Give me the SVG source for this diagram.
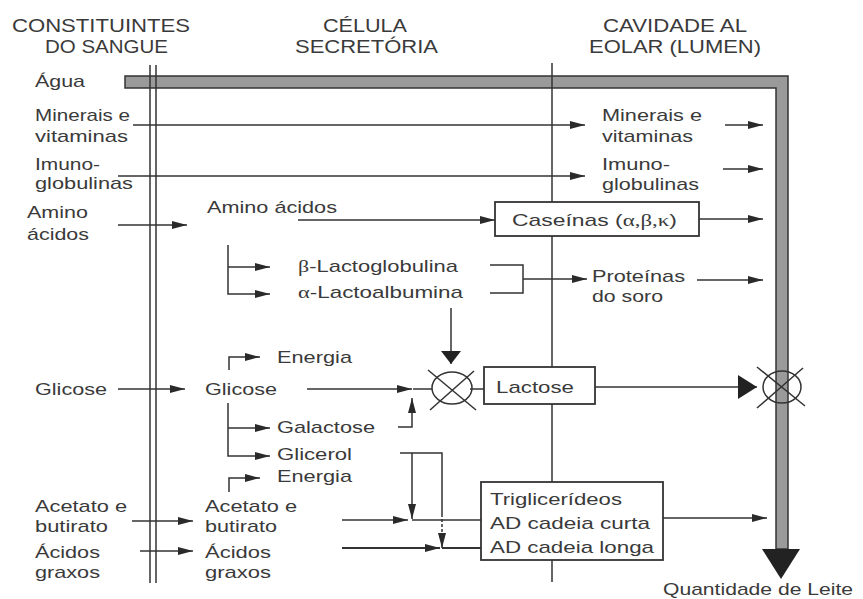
<svg xmlns="http://www.w3.org/2000/svg" width="863" height="599" viewBox="0 0 863 599">
<style>
text{font-family:"Liberation Sans",Arial,sans-serif;font-size:17px;fill:#3a3a3a;}
.h{font-size:19px;}
.g{font-family:"Liberation Serif","Times New Roman",serif;}
.ln{fill:none;stroke:#333;stroke-width:1.5;}
.ar{fill:none;stroke:#333;stroke-width:1.5;marker-end:url(#a);}
.box{fill:#fff;stroke:#333;stroke-width:1.8;}
</style>
<defs>
<marker id="a" markerUnits="userSpaceOnUse" markerWidth="16" markerHeight="10" refX="15" refY="5" orient="auto"><path d="M0,1 L15,5 L0,9 Z" fill="#2a2a2a"/></marker>
<marker id="b" markerUnits="userSpaceOnUse" markerWidth="20" markerHeight="24" refX="19" refY="12" orient="auto"><path d="M0,0 L19,12 L0,24 Z" fill="#222"/></marker>
<marker id="c" markerUnits="userSpaceOnUse" markerWidth="14" markerHeight="22" refX="13" refY="11" orient="auto"><path d="M0,1 L13,11 L0,21 Z" fill="#222"/></marker>
</defs>

<g id="headers">
<text class="h" x="12" y="32" textLength="178" lengthAdjust="spacingAndGlyphs">CONSTITUINTES</text>
<text class="h" x="45" y="53" textLength="123" lengthAdjust="spacingAndGlyphs">DO SANGUE</text>
<text class="h" x="323" y="32" textLength="84" lengthAdjust="spacingAndGlyphs">CÉLULA</text>
<text class="h" x="295" y="53" textLength="143" lengthAdjust="spacingAndGlyphs">SECRETÓRIA</text>
<text class="h" x="603" y="32" textLength="144" lengthAdjust="spacingAndGlyphs">CAVIDADE AL</text>
<text class="h" x="589" y="53" textLength="172" lengthAdjust="spacingAndGlyphs">EOLAR (LUMEN)</text>
</g>

<g id="water-flow">
<path d="M125,76 H788 V549 H776 V88 H125 Z" fill="#9a9a9a" stroke="#333" stroke-width="1.5"/>
<path d="M762,549 L800,549 L781,579 Z" fill="#222"/>
</g>

<g id="membranes">
<line class="ln" x1="150" y1="65" x2="150" y2="583"/>
<line class="ln" x1="156" y1="65" x2="156" y2="583"/>
<line class="ln" x1="552" y1="63" x2="552" y2="582"/>
</g>

<g id="connectors">
<line class="ar" x1="133" y1="125" x2="585" y2="125"/>
<line class="ar" x1="725" y1="125" x2="763" y2="125"/>
<line class="ar" x1="118" y1="176" x2="585" y2="176"/>
<line class="ar" x1="723" y1="169" x2="763" y2="169"/>
<line class="ar" x1="118" y1="225" x2="187" y2="225"/>
<line class="ar" x1="298" y1="220" x2="495" y2="220"/>
<line class="ar" x1="699" y1="219" x2="763" y2="219"/>
<path class="ar" d="M228,245 V294 H270"/>
<line class="ar" x1="228" y1="267" x2="270" y2="267"/>
<path class="ln" d="M490,265 H523 V293 H490"/>
<line class="ar" x1="523" y1="279" x2="587" y2="279"/>
<line class="ar" x1="697" y1="280" x2="763" y2="280"/>
<line class="ln" x1="451" y1="308" x2="451" y2="364" style="marker-end:url(#c)"/>
<line class="ln" x1="470" y1="389" x2="484" y2="389"/>
<line class="ln" x1="595" y1="387" x2="757" y2="387" style="marker-end:url(#b)"/>
<line class="ar" x1="118" y1="389" x2="185" y2="389"/>
<line class="ar" x1="307" y1="389" x2="412" y2="389"/>
<line class="ln" x1="413" y1="389" x2="432" y2="389"/>
<path class="ar" d="M229,370 V357 H260"/>
<path class="ar" d="M228,403 V456 H270"/>
<line class="ar" x1="228" y1="428" x2="270" y2="428"/>
<path class="ar" d="M398,427 H412 V398"/>
<path class="ar" d="M229,492 V478 H260"/>
<line class="ar" x1="132" y1="521" x2="193" y2="521"/>
<line class="ar" x1="140" y1="551" x2="193" y2="551"/>
<line class="ar" x1="342" y1="520" x2="408" y2="520"/>
<line class="ln" x1="412" y1="520" x2="481" y2="520"/>
<line class="ar" x1="342" y1="548" x2="440" y2="548" style="stroke-width:2.2"/>
<line class="ln" x1="442" y1="548" x2="481" y2="548" style="stroke-width:2"/>
<path class="ln" d="M400,453 H442 V514"/>
<line class="ln" x1="442" y1="514" x2="442" y2="535" stroke-dasharray="3,2"/>
<line class="ar" x1="442" y1="535" x2="442" y2="548"/>
<line class="ar" x1="412" y1="453" x2="412" y2="519"/>
<line class="ar" x1="663" y1="518" x2="767" y2="518"/>
</g>

<g id="mixer-left">
<ellipse cx="452" cy="388" rx="20" ry="16" fill="none" stroke="#333" stroke-width="1.5"/>
<line class="ln" x1="428" y1="370" x2="476" y2="410"/>
<line class="ln" x1="474" y1="371" x2="430" y2="410"/>
</g>
<g id="mixer-right">
<ellipse cx="782" cy="387" rx="19" ry="16" fill="none" stroke="#333" stroke-width="1.5"/>
<line class="ln" x1="757" y1="367" x2="805" y2="406"/>
<line class="ln" x1="803" y1="368" x2="757" y2="408"/>
</g>

<g id="blood">
<text x="35" y="87" textLength="50" lengthAdjust="spacingAndGlyphs">Água</text>
<text x="35" y="121" textLength="95" lengthAdjust="spacingAndGlyphs">Minerais e</text>
<text x="35" y="142" textLength="93" lengthAdjust="spacingAndGlyphs">vitaminas</text>
<text x="35" y="170" textLength="65" lengthAdjust="spacingAndGlyphs">Imuno-</text>
<text x="35" y="189" textLength="98" lengthAdjust="spacingAndGlyphs">globulinas</text>
<text x="27" y="218" textLength="61" lengthAdjust="spacingAndGlyphs">Amino</text>
<text x="27" y="240" textLength="62" lengthAdjust="spacingAndGlyphs">ácidos</text>
<text x="35" y="395" textLength="72" lengthAdjust="spacingAndGlyphs">Glicose</text>
<text x="35" y="512" textLength="92" lengthAdjust="spacingAndGlyphs">Acetato e</text>
<text x="35" y="532" textLength="73" lengthAdjust="spacingAndGlyphs">butirato</text>
<text x="35" y="558" textLength="65" lengthAdjust="spacingAndGlyphs">Ácidos</text>
<text x="35" y="578" textLength="65" lengthAdjust="spacingAndGlyphs">graxos</text>
</g>

<g id="cell">
<text x="207" y="213" textLength="130" lengthAdjust="spacingAndGlyphs">Amino ácidos</text>
<text x="298" y="272" textLength="160" lengthAdjust="spacingAndGlyphs"><tspan class="g">β</tspan>-Lactoglobulina</text>
<text x="298" y="298" textLength="165" lengthAdjust="spacingAndGlyphs"><tspan class="g">α</tspan>-Lactoalbumina</text>
<text x="277" y="363" textLength="75" lengthAdjust="spacingAndGlyphs">Energia</text>
<text x="205" y="395" textLength="72" lengthAdjust="spacingAndGlyphs">Glicose</text>
<text x="277" y="433" textLength="98" lengthAdjust="spacingAndGlyphs">Galactose</text>
<text x="277" y="460" textLength="75" lengthAdjust="spacingAndGlyphs">Glicerol</text>
<text x="277" y="482" textLength="75" lengthAdjust="spacingAndGlyphs">Energia</text>
<text x="205" y="512" textLength="92" lengthAdjust="spacingAndGlyphs">Acetato e</text>
<text x="205" y="532" textLength="72" lengthAdjust="spacingAndGlyphs">butirato</text>
<text x="205" y="558" textLength="66" lengthAdjust="spacingAndGlyphs">Ácidos</text>
<text x="205" y="578" textLength="66" lengthAdjust="spacingAndGlyphs">graxos</text>
</g>

<g id="caseinas">
<rect class="box" x="495" y="202" width="204" height="34"/>
<text x="512" y="226" textLength="165" lengthAdjust="spacingAndGlyphs">Caseínas (<tspan class="g">α,β,κ</tspan>)</text>
</g>
<g id="lactose">
<rect class="box" x="484" y="367" width="111" height="37"/>
<text x="496" y="393" textLength="78" lengthAdjust="spacingAndGlyphs">Lactose</text>
</g>
<g id="trigliceridos">
<rect class="box" x="481" y="482" width="182" height="78"/>
<text x="490" y="505" textLength="132" lengthAdjust="spacingAndGlyphs">Triglicerídeos</text>
<text x="490" y="529" textLength="160" lengthAdjust="spacingAndGlyphs">AD cadeia curta</text>
<text x="490" y="553" textLength="164" lengthAdjust="spacingAndGlyphs">AD cadeia longa</text>
</g>

<g id="lumen">
<text x="602" y="121" textLength="100" lengthAdjust="spacingAndGlyphs">Minerais e</text>
<text x="602" y="142" textLength="91" lengthAdjust="spacingAndGlyphs">vitaminas</text>
<text x="602" y="170" textLength="68" lengthAdjust="spacingAndGlyphs">Imuno-</text>
<text x="602" y="190" textLength="97" lengthAdjust="spacingAndGlyphs">globulinas</text>
<text x="592" y="282" textLength="93" lengthAdjust="spacingAndGlyphs">Proteínas</text>
<text x="592" y="302" textLength="71" lengthAdjust="spacingAndGlyphs">do soro</text>
<text x="663" y="595" textLength="190" lengthAdjust="spacingAndGlyphs">Quantidade de Leite</text>
</g>
</svg>
